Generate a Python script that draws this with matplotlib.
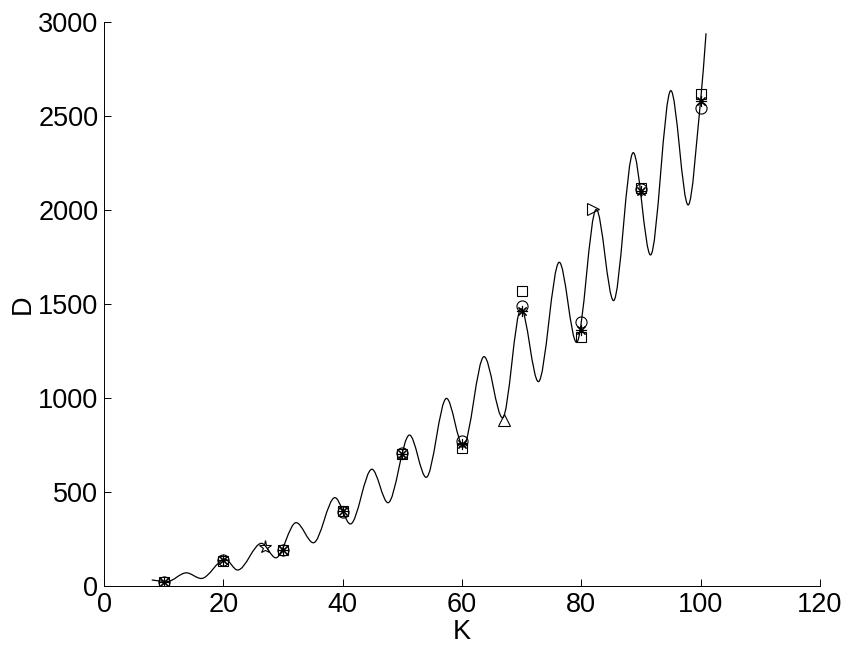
import numpy as np
import matplotlib
matplotlib.use("Agg")
import matplotlib.pyplot as plt
from matplotlib.path import Path
from matplotlib.patches import PathPatch

plt.rcParams['font.family'] = ['Liberation Sans', 'DejaVu Sans']

# Curve: key points (start, troughs/peaks, end)
curve_k = [8.0, 10.6, 13.8, 16.3, 20.3, 22.4, 26.4, 28.8, 32.2, 35.1, 38.7, 41.3,
           44.9, 47.6, 51.2, 54.0, 57.4, 60.2, 63.7, 66.8, 69.9, 72.8, 76.3, 79.2,
           82.5, 85.4, 88.7, 91.6, 95.0, 97.9, 100.0, 100.9]
curve_d = [32, 24, 70, 40, 142, 85, 227, 150, 337, 230, 470, 330,
           621, 443, 803, 578, 998, 745, 1220, 895, 1475, 1087, 1722, 1296,
           2003, 1518, 2305, 1761, 2635, 2027, 2585, 2940]

# Marker series at K = 10..100
marker_k = [10, 20, 30, 40, 50, 60, 70, 80, 90, 100]
circle_d = [22, 138, 192, 392, 710, 772, 1489, 1406, 2114, 2541]
square_d = [20, 135, 190, 400, 700, 733, 1569, 1323, 2118, 2617]
aster_d = [21, 138, 191, 398, 702, 757, 1463, 1362, 2100, 2580]

# Single special points
star_k, star_d = [27.0], [206]
tri_k, tri_d = [67.0], [885]
rtri_k, rtri_d = [82.0], [2003]

x_ticks = [0, 20, 40, 60, 80, 100, 120]
y_ticks = [0, 500, 1000, 1500, 2000, 2500, 3000]

fig = plt.figure(figsize=(8.49, 6.54), dpi=100)
ax = fig.add_axes([104 / 849, 1 - 586 / 654, (820 - 104) / 849, (586 - 22) / 654])

# Smooth curve through the read points (cubic Bezier segments; zero slope at extrema)
xk = np.array(curve_k, dtype=float)
yd = np.array(curve_d, dtype=float)
n = len(xk)
slopes = np.zeros(n)
for i in range(n):
    if i == 0:
        slopes[i] = (yd[1] - yd[0]) / (xk[1] - xk[0])
    elif i == n - 1:
        slopes[i] = (yd[-1] - yd[-2]) / (xk[-1] - xk[-2])
    elif (yd[i] - yd[i - 1]) * (yd[i + 1] - yd[i]) <= 0:
        slopes[i] = 0.0
    else:
        slopes[i] = (yd[i + 1] - yd[i - 1]) / (xk[i + 1] - xk[i - 1])
verts = [(xk[0], yd[0])]
codes = [Path.MOVETO]
for i in range(n - 1):
    h = xk[i + 1] - xk[i]
    verts += [(xk[i] + h / 3, yd[i] + slopes[i] * h / 3),
              (xk[i + 1] - h / 3, yd[i + 1] - slopes[i + 1] * h / 3),
              (xk[i + 1], yd[i + 1])]
    codes += [Path.CURVE4, Path.CURVE4, Path.CURVE4]
ax.add_patch(PathPatch(Path(verts, codes), fill=False, edgecolor='black', lw=0.9))

mk = dict(linestyle='none', color='black', markerfacecolor='none', markeredgewidth=0.8)
ax.plot(marker_k, circle_d, marker='o', markersize=8, **mk)
ax.plot(marker_k, square_d, marker='s', markersize=6.5, **mk)
ax.plot(marker_k, aster_d, marker=(8, 2, 0), markersize=8, linestyle='none',
        color='black', markeredgewidth=0.8)
ax.plot(star_k, star_d, marker='*', markersize=9.5, **mk)
ax.plot(tri_k, tri_d, marker='^', markersize=9, **mk)
ax.plot(rtri_k, rtri_d, marker='>', markersize=9, **mk)

ax.set_xlim(0, 120)
ax.set_ylim(0, 3000)
ax.set_xticks(x_ticks)
ax.set_yticks(y_ticks)
ax.spines['top'].set_visible(False)
ax.spines['right'].set_visible(False)
for s in ('left', 'bottom'):
    ax.spines[s].set_linewidth(0.7)
ax.tick_params(direction='in', length=5, width=0.7, labelsize=19.5, pad=4)
ax.set_xlabel('K', fontsize=19.5, labelpad=1)
ax.set_ylabel('D', fontsize=19.5, labelpad=2)

fig.savefig('out.png', dpi=100)
